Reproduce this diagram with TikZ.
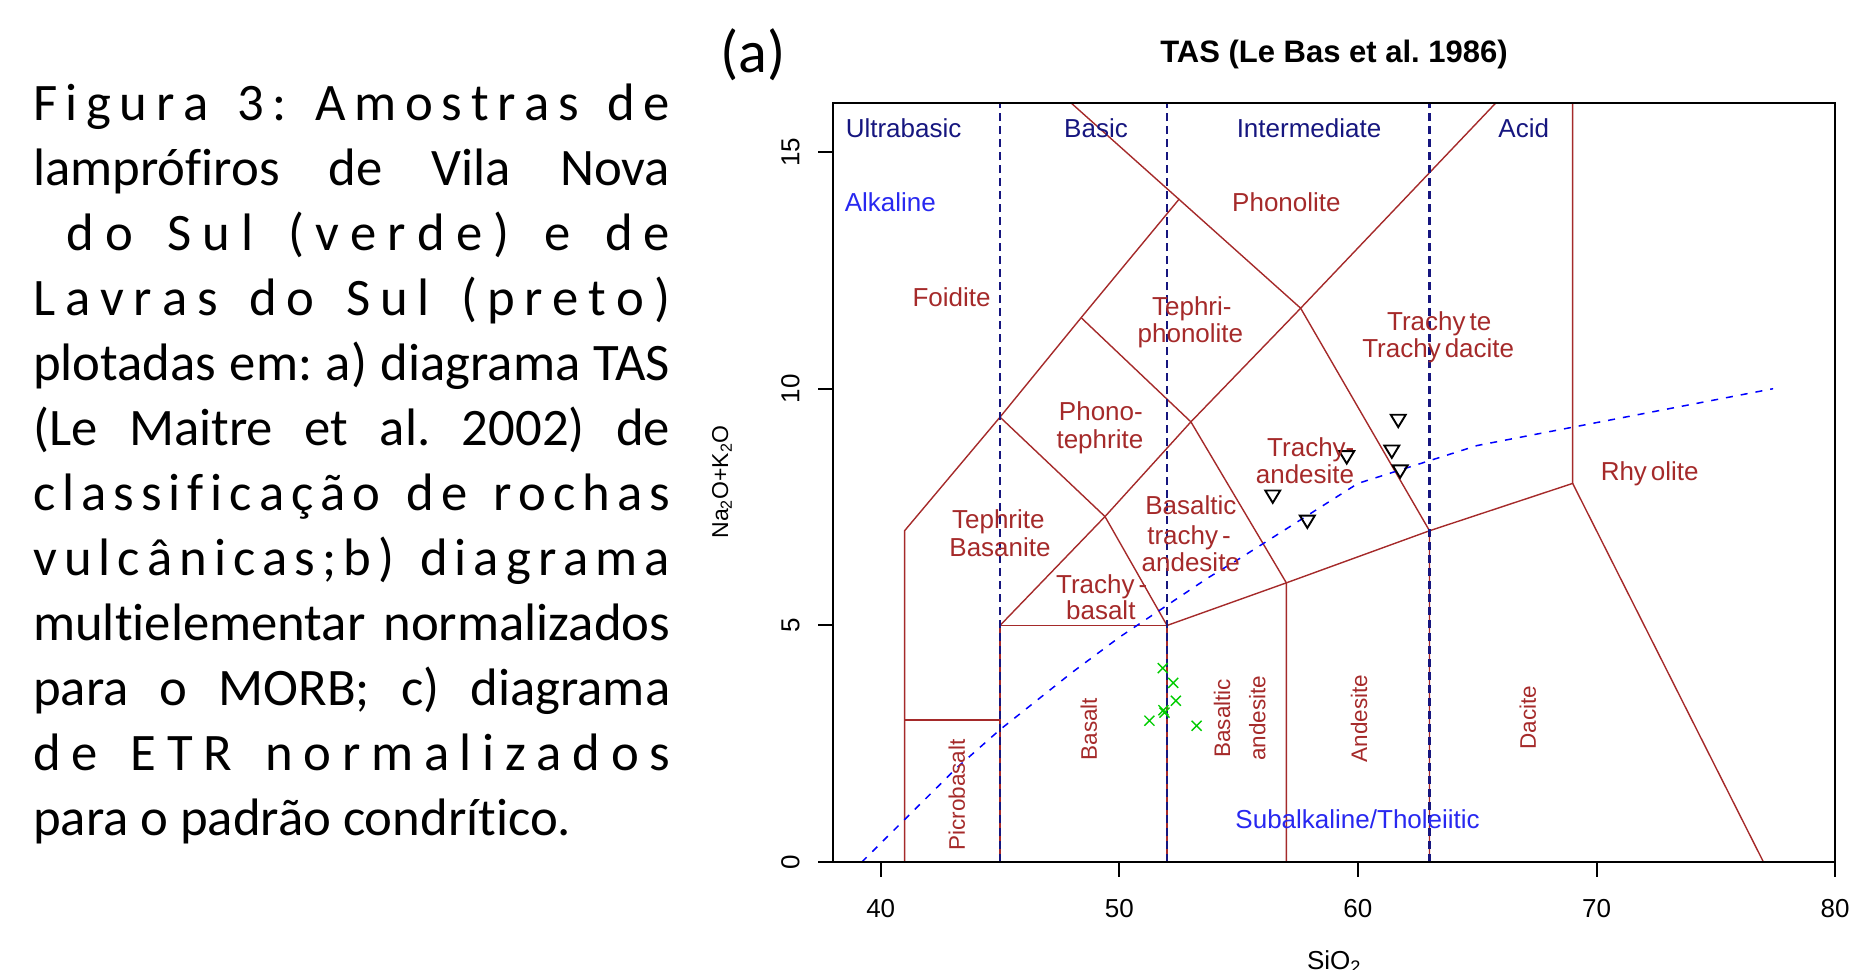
\documentclass[tikz,border=0pt]{standalone}
\usepackage{fontspec}
\newfontfamily\capfont[Ligatures=NoCommon]{Carlito}
\newfontfamily\plotfont{Liberation Sans}
\definecolor{tasred}{HTML}{A52A2A}
\definecolor{tasnavy}{HTML}{16167F}
\definecolor{tasblue}{HTML}{2828F0}
\definecolor{curveblue}{HTML}{0000FF}
\definecolor{ptgreen}{HTML}{00CC00}
\newlength\capw \setlength\capw{637bp}
\newlength\capwi \setlength\capwi{627bp}
\makeatletter
\def\dst@stop{\dst@stop}
\newcommand\dstline[2][\capw]{\hbox to #1{\dst@loop#2\dst@stop\unskip}}
\def\dst@loop#1{\ifx#1\dst@stop\else\dst@put#1\expandafter\dst@loop\fi}
\def\dst@put#1{\ifx#1|\space\else#1\fi\hskip 0pt plus 1fil\relax}
\makeatother
\newcommand\jline[1]{\hbox to \capw{#1}}
\frenchspacing
\begin{document}
\begin{tikzpicture}[x=1bp,y=-1bp,
  field/.style={draw=tasred, line width=1.4bp},
  divline/.style={draw=tasnavy, line width=2.1bp, dash pattern=on 8bp off 5bp},
  alkline/.style={draw=curveblue, line width=1.5bp, dash pattern=on 7bp off 8bp},
  plotframe/.style={draw=black, line width=2bp},
  capline/.style={anchor=base west, inner sep=0pt, font=\capfont\fontsize{52.7bp}{65bp}\selectfont},
  lbl/.style={font=\plotfont\fontsize{26bp}{31bp}\selectfont, inner sep=0pt, text height=18.6bp, text depth=0pt, text=tasred},
  rlbl/.style={font=\plotfont\fontsize{22.5bp}{27bp}\selectfont, inner sep=0pt, text height=16.1bp, text depth=0pt, text=tasred, rotate=90},
  navylbl/.style={lbl, text=tasnavy},
  bluelbl/.style={lbl, text=tasblue},
  ticklbl/.style={font=\plotfont\fontsize{26bp}{31bp}\selectfont, inner sep=0pt, text height=18.6bp, text depth=0pt},
  tri/.style={draw=black, line width=1.9bp},
  crs/.style={draw=ptgreen, line width=1.4bp}
]
\useasboundingbox (0,0) rectangle (1861,969);

% caption
\node[capline] (c1) at (33,120) {\dstline{Figura|3:|Amostras|de}};
\node[capline] (c2) at (33,185) {\jline{lamprófiros de Vila Nova}};
\node[capline] (c3) at (33,250) {\hbox to \capw{\kern10bp\dstline[\capwi]{|do|Sul|(verde)|e|de}}};
\node[capline] (c4) at (33,315) {\dstline{Lavras|do|Sul|(preto)}};
\node[capline] (c5) at (33,380) {\jline{plotadas em: a) diagrama TAS}};
\node[capline] (c6) at (33,445) {\jline{(Le Maitre et al. 2002) de}};
\node[capline] (c7) at (33,510) {\dstline{classificação|de|rochas}};
\node[capline] (c8) at (33,575) {\dstline{vulcânicas;b)|diagrama}};
\node[capline] (c9) at (33,640) {\jline{multielementar normalizados}};
\node[capline] (c10) at (33,705) {\jline{para o MORB; c) diagrama}};
\node[capline] (c11) at (33,770) {\dstline{de|ETR|normalizados}};
\node[capline] (c12) at (33,835) {para o padrão condrítico.};

% panel letter and title
\node[inner sep=0pt, font=\capfont\fontsize{60bp}{70bp}\selectfont] (pa) at (753,54.5) {(a)};
\node[inner sep=0pt, font=\plotfont\bfseries\fontsize{31bp}{36bp}\selectfont, text height=22.2bp, text depth=0pt] (title) at (1334,51) {TAS (Le Bas et al. 1986)};

% plot in data coordinates
\begin{scope}[xshift=-73.7bp, yshift=-862.2bp, x=23.86bp, y=47.35bp]
  \begin{scope}
    \clip (38,0) rectangle (80,16.04);
    \draw[field] (41,0) -- (41,7) -- (45,9.4) -- (48.4,11.5) -- (52.5,14) -- (57.6,11.7) -- (66.6,16.47);
    \draw[field] (47.5,16.25) -- (52.5,14);
    \draw[field] (41,3) -- (45,3);
    \draw[field] (45,0) -- (45,5) -- (52,5) -- (52,0);
    \draw[field] (45,5) -- (49.4,7.3) -- (52,5) -- (57,5.9) -- (63,7) -- (69,8) -- (69,16.5);
    \draw[field] (45,9.4) -- (49.4,7.3) -- (53,9.3) -- (57.6,11.7);
    \draw[field] (48.4,11.5) -- (53,9.3) -- (57,5.9) -- (57,0);
    \draw[field] (57.6,11.7) -- (63,7) -- (63,0);
    \draw[field] (69,8) -- (77,0);
    \draw[divline] (45,0) -- (45,16.04);
    \draw[divline] (52,0) -- (52,16.04);
    \draw[divline] (63,0) -- (63,16.04);
    \draw[alkline] plot coordinates {(39.2,0) (40,0.4) (43.2,2) (45,2.8) (48,4) (50,4.75) (53.7,6) (55,6.4) (60,8) (65,8.8) (77.4,10)};
  \end{scope}
  \draw[plotframe] (38,0) rectangle (80,16.04);
  \foreach \s in {40,50,60,70,80} \draw[plotframe] (\s,0) -- ++(0,-15bp);
  \foreach \t in {0,5,10,15} \draw[plotframe] (38,\t) -- ++(-15bp,0);
  % Lavras do Sul samples (triangles)
  \foreach \p in {(61.69,9.32),(61.42,8.67),(61.77,8.25),(59.53,8.55),(56.43,7.72),(57.88,7.19)}
    \draw[tri] \p ++(-7.5bp,6.2bp) -- ++(15bp,0) -- ++(-7.5bp,-12.4bp) -- cycle;
  % Vila Nova do Sul samples (crosses)
  \foreach \p in {(51.82,4.10),(52.26,3.79),(52.37,3.41),(51.85,3.21),(51.89,3.16),(51.26,2.99),(53.24,2.88)}
    \draw[crs] \p ++(-5bp,-5bp) -- ++(10bp,10bp) \p ++(-5bp,5bp) -- ++(10bp,-10bp);
\end{scope}

% axis tick labels
\node[ticklbl] (x40) at (880.7,908) {40};
\node[ticklbl] (x50) at (1119.3,908) {50};
\node[ticklbl] (x60) at (1357.9,908) {60};
\node[ticklbl] (x70) at (1596.5,908) {70};
\node[ticklbl] (x80) at (1835.1,908) {80};
\node[ticklbl, rotate=90] (y0) at (790,862.2) {0};
\node[ticklbl, rotate=90] (y5) at (790,625.5) {5};
\node[ticklbl, rotate=90] (y10) at (790,388.7) {10};
\node[ticklbl, rotate=90] (y15) at (790,152) {15};
\node[inner sep=0pt, rotate=90, font=\plotfont\fontsize{23bp}{28bp}\selectfont] (ylab) at (722,482) {Na\textsubscript{2}O+K\textsubscript{2}O};
\node[inner sep=0pt, anchor=base, font=\plotfont\fontsize{26bp}{31bp}\selectfont] (xlab) at (1334,969.5) {SiO\textsubscript{2}};

% series labels
\node[navylbl] (ub) at (903.6,128.3) {Ultrabasic};
\node[navylbl] (ba) at (1096,128.3) {Basic};
\node[navylbl] (im) at (1309,128.3) {Intermediate};
\node[navylbl] (ac) at (1523.7,128.3) {Acid};
\node[bluelbl] (alk) at (890.4,201.7) {Alkaline};
\node[bluelbl] (sub) at (1357.6,819.2) {Subalkaline/Tholeiitic};

% field labels
\node[lbl] (l1) at (1286.4,202) {Phonolite};
\node[lbl] (l2) at (951.6,297.5) {Foidite};
\node[lbl] (l3a) at (1191.8,305.8) {Tephri-};
\node[lbl] (l3b) at (1190.4,333.3) {phonolite};
\node[lbl] (l4a) at (1100.9,410.8) {Phono-};
\node[lbl] (l4b) at (1099.9,439.2) {tephrite};
\node[lbl] (l5a) at (998.3,519.2) {Tephrite};
\node[lbl] (l5b) at (1000,546.7) {Basanite};
\node[lbl] (l6a) at (1101.7,584) {Trachy\kern4bp-};
\node[lbl] (l6b) at (1100.8,610.5) {basalt};
\node[lbl] (l7a) at (1190.8,505.3) {Basaltic};
\node[lbl] (l7b) at (1189,535) {trachy\kern4bp-};
\node[lbl] (l7c) at (1190.8,562.5) {andesite};
\node[lbl] (l8a) at (1310.8,447.5) {Trachy-};
\node[lbl] (l8b) at (1305,474.2) {andesite};
\node[lbl] (l9a) at (1439.2,320.8) {Trachy\kern4bp te};
\node[lbl] (l9b) at (1438.2,348) {Trachy\kern4bp dacite};
\node[lbl] (l10) at (1649.7,470.8) {Rhy\kern4bp olite};
\node[rlbl] (r1) at (956.7,795) {Picrobasalt};
\node[rlbl] (r2) at (1088.8,729.2) {Basalt};
\node[rlbl] (r3a) at (1222,718.3) {Basaltic};
\node[rlbl] (r3b) at (1257.4,718.3) {andesite};
\node[rlbl] (r4) at (1359,718.3) {Andesite};
\node[rlbl] (r5) at (1527.8,717.5) {Dacite};
\end{tikzpicture}
\end{document}
